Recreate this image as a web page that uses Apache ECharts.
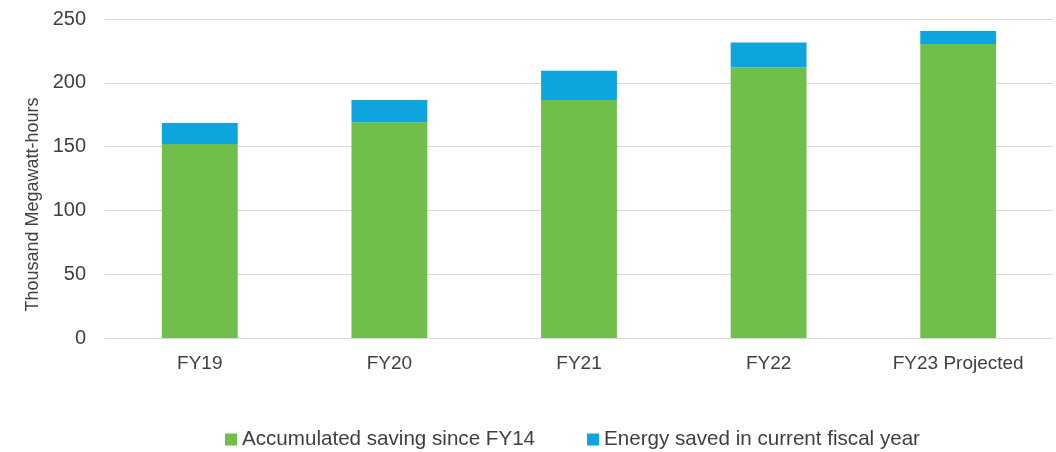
<!DOCTYPE html>
<html>
<head>
<meta charset="utf-8">
<script src="https://cdn.jsdelivr.net/npm/echarts@6/dist/echarts.min.js"></script>
<style>
  html, body { margin: 0; padding: 0; background: #fff; }
  #chart { width: 1056px; height: 452px; }
</style>
</head>
<body>
<div id="chart"></div>
<script>
  var categories = ['FY19', 'FY20', 'FY21', 'FY22', 'FY23 Projected'];
  var accumulated = [152, 169, 186.5, 212, 230.5];
  var currentYear = [16.5, 17.5, 23, 19.5, 10];

  var chart = echarts.init(document.getElementById('chart'));
  chart.setOption({
    animation: false,
    textStyle: { fontFamily: 'Liberation Sans, Arial, sans-serif' },
    grid: { left: 105, right: 3, top: 19, bottom: 114 },
    legend: {
      top: 424,
      left: 220,
      padding: 5,
      itemWidth: 12,
      itemHeight: 12,
      itemGap: 52,
      icon: 'rect',
      textStyle: { color: '#404040', fontSize: 20.6 },
      data: ['Accumulated saving since FY14', 'Energy saved in current fiscal year']
    },
    xAxis: {
      type: 'category',
      data: categories,
      axisLine: { show: false },
      axisTick: { show: false },
      axisLabel: { color: '#404040', fontSize: 19, margin: 16 }
    },
    yAxis: {
      type: 'value',
      min: 0,
      max: 250,
      interval: 50,
      name: 'Thousand Megawatt-hours',
      nameLocation: 'middle',
      nameGap: 63,
      nameTextStyle: { color: '#404040', fontSize: 18, padding: [0, 52, 0, 0] },
      axisLabel: { color: '#404040', fontSize: 20, margin: 19 },
      splitLine: { lineStyle: { color: '#d9d9d9', width: 1 } }
    },
    series: [
      {
        name: 'Accumulated saving since FY14',
        type: 'bar',
        stack: 'total',
        barWidth: '40%',
        itemStyle: { color: '#70BF4B' },
        data: accumulated
      },
      {
        name: 'Energy saved in current fiscal year',
        type: 'bar',
        stack: 'total',
        barWidth: '40%',
        itemStyle: { color: '#0EA5DE' },
        data: currentYear
      }
    ]
  });
</script>
</body>
</html>
